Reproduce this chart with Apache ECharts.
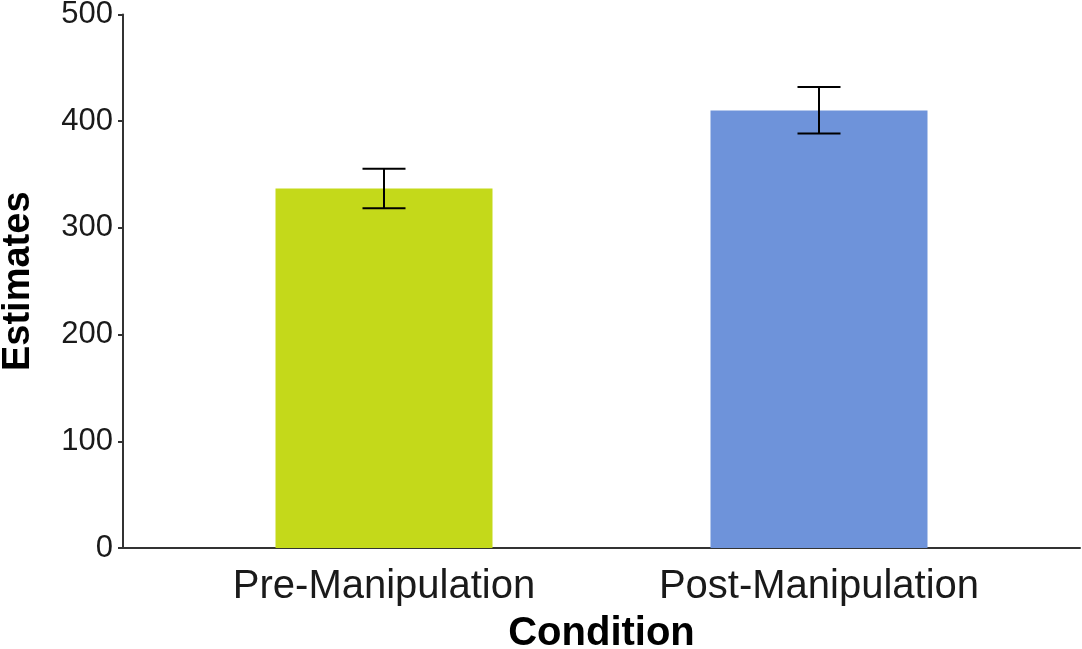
<!DOCTYPE html>
<html>
<head>
<meta charset="utf-8">
<script src="https://cdn.jsdelivr.net/npm/echarts@6/dist/echarts.min.js"></script>
<style>html,body{margin:0;padding:0;background:#fff;}#c{width:1082px;height:649px;}</style>
</head>
<body>
<div id="c"></div>
<script>
const categories = ['Pre-Manipulation', 'Post-Manipulation'];
const means = [337, 410];
const errLow = [318.5, 388.5];
const errHigh = [355.5, 432];
const barColors = ['#C4D91A', '#6E93DA'];
const yTicks = [0, 100, 200, 300, 400, 500];

const chart = echarts.init(document.getElementById('c'));
const font = '"Liberation Sans", Arial, Helvetica, sans-serif';
chart.setOption({
  animation: false,
  grid: { left: 123, right: 2, top: 14.5, bottom: 101, containLabel: false, outerBoundsMode: 'none' },
  xAxis: {
    type: 'value', min: 0.4, max: 2.6,
    name: 'Condition', nameLocation: 'middle', nameGap: 66,
    nameTextStyle: { fontFamily: font, fontWeight: 'bold', fontSize: 40, color: '#000' },
    axisLine: { show: true, onZero: false, lineStyle: { color: '#333', width: 2 } },
    axisTick: { show: false },
    splitLine: { show: false },
    axisLabel: {
      customValues: [1, 2], margin: 19,
      fontFamily: font, fontSize: 40, color: '#1a1a1a',
      formatter: v => categories[Math.round(v) - 1] || ''
    }
  },
  yAxis: {
    type: 'value', min: 0, max: 500, interval: 100,
    name: 'Estimates', nameLocation: 'middle', nameGap: 85,
    nameTextStyle: { fontFamily: font, fontWeight: 'bold', fontSize: 38, color: '#000' },
    axisLine: { show: true, lineStyle: { color: '#333', width: 2 } },
    axisTick: { show: true, length: 5, lineStyle: { color: '#333', width: 2 } },
    splitLine: { show: false },
    axisLabel: { fontFamily: font, fontSize: 31, color: '#1a1a1a', margin: 10,
      customValues: yTicks }
  },
  series: [
    {
      type: 'bar', barWidth: 217,
      data: means.map((m, i) => ({ value: [i + 1, m], itemStyle: { color: barColors[i] } }))
    },
    {
      type: 'custom', z: 10,
      data: means.map((m, i) => [i + 1, errLow[i], errHigh[i]]),
      renderItem: function (params, api) {
        const x = api.value(0);
        const lo = api.coord([x, api.value(1)]);
        const hi = api.coord([x, api.value(2)]);
        const hw = 21.5;
        const st = { stroke: '#000', lineWidth: 2 };
        return {
          type: 'group',
          children: [
            { type: 'line', shape: { x1: lo[0], y1: lo[1], x2: hi[0], y2: hi[1] }, style: st },
            { type: 'line', shape: { x1: lo[0] - hw, y1: lo[1], x2: lo[0] + hw, y2: lo[1] }, style: st },
            { type: 'line', shape: { x1: hi[0] - hw, y1: hi[1], x2: hi[0] + hw, y2: hi[1] }, style: st }
          ]
        };
      }
    }
  ]
});
</script>
</body>
</html>
